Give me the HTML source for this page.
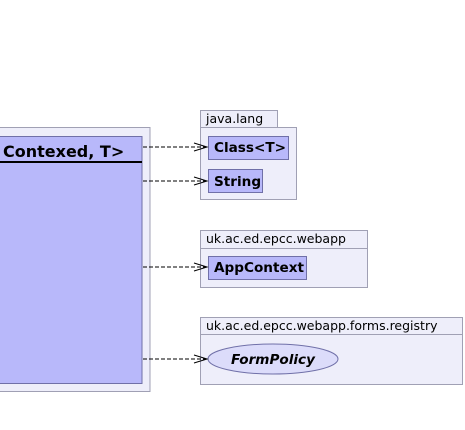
<!DOCTYPE html><html><head><style>body{margin:0;background:#fff}</style></head><body>
<svg width="465" height="430" xmlns="http://www.w3.org/2000/svg" style="display:block">
<g font-family="DejaVu Sans, sans-serif">
<rect x="-5" y="127.5" width="155" height="264" fill="#eeeefa" stroke="#a0a0b4"/>
<rect x="-5" y="136.5" width="147" height="247" fill="#b8b8fa" stroke="#7070a8"/>
<line x1="0" y1="162" x2="142" y2="162" stroke="#000" stroke-width="2"/>
<text x="3" y="157" font-size="16" font-weight="bold">Contexed, T&gt;</text>

<rect x="200.5" y="110.5" width="77" height="17" fill="#eeeefa" stroke="#a0a0b4"/>
<rect x="200.5" y="127.5" width="96" height="72" fill="#eeeefa" stroke="#a0a0b4"/>
<text x="206" y="123" font-size="12.5">java.lang</text>
<rect x="208.5" y="136.5" width="80" height="23" fill="#b8b8fa" stroke="#7070a8"/>
<text x="214" y="152" font-size="13.6" font-weight="bold">Class&lt;T&gt;</text>
<rect x="208.5" y="169.5" width="54" height="23" fill="#b8b8fa" stroke="#7070a8"/>
<text x="214" y="186" font-size="13.6" font-weight="bold">String</text>

<rect x="200.5" y="230.5" width="167" height="18" fill="#eeeefa" stroke="#a0a0b4"/>
<rect x="200.5" y="248.5" width="167" height="39" fill="#eeeefa" stroke="#a0a0b4"/>
<text x="206" y="243" font-size="12.5">uk.ac.ed.epcc.webapp</text>
<rect x="208.5" y="256.5" width="98" height="23" fill="#b8b8fa" stroke="#7070a8"/>
<text x="214" y="272" font-size="13.6" font-weight="bold">AppContext</text>

<rect x="200.5" y="317.5" width="262" height="17" fill="#eeeefa" stroke="#a0a0b4"/>
<rect x="200.5" y="334.5" width="262" height="50" fill="#eeeefa" stroke="#a0a0b4"/>
<text x="206" y="330" font-size="12.5">uk.ac.ed.epcc.webapp.forms.registry</text>
<ellipse cx="273" cy="359" rx="65" ry="15" fill="#dcdcfa" stroke="#7070a8"/>
<text x="273" y="364" font-size="13.6" font-weight="bold" font-style="italic" text-anchor="middle">FormPolicy</text>

<g stroke="#000" fill="none">
<g stroke-dasharray="4,2">
<line x1="143" y1="147" x2="206" y2="147"/>
<line x1="143" y1="181" x2="206" y2="181"/>
<line x1="143" y1="267" x2="206" y2="267"/>
<line x1="143" y1="359" x2="206" y2="359"/>
</g>
<path d="M194 143 L207 147 L194 151"/>
<path d="M194 177 L207 181 L194 185"/>
<path d="M194 263 L207 267 L194 271"/>
<path d="M194 355 L207 359 L194 363"/>
</g>
</g>
</svg>
</body></html>
